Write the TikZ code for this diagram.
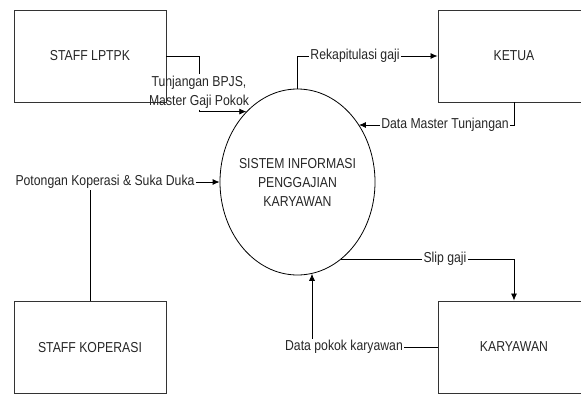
\documentclass[tikz,border=0pt]{standalone}
\usepackage{fontspec}
\setmainfont{Liberation Sans}[FakeStretch=0.85]
\usetikzlibrary{shapes.geometric, arrows.meta}

\begin{document}
\begin{tikzpicture}[x=1pt,y=-1pt,>={Latex[length=7pt,width=6pt]},black,line width=0.8pt,
                font=\fontsize{14.4}{19}\selectfont,
                entity/.style={rectangle,draw=black!80,line width=0.9pt,minimum width=152pt,
                minimum height=92pt,inner sep=0pt,text=black!85},
                proc/.style={ellipse,draw,minimum width=155pt,minimum height=186pt,
                align=center,inner sep=0pt,text=black!85},
                flow/.style={inner sep=1pt,text=black!85}]
                \useasboundingbox (0,0) rectangle (581,394);
                \node[entity] (lptpk) at (90,56) {STAFF LPTPK};
                \node[entity] (ketua) at (514,56) {KETUA};
                \node[entity] (koperasi) at (90,347.5) {STAFF KOPERASI};
                \node[entity] (karyawan) at (514,347) {KARYAWAN};
                \node[proc] (sis) at (297.5,182) {\makebox[0pt]{SISTEM INFORMASI}\\PENGGAJIAN\\KARYAWAN};
                \node[flow,align=center] (tbp) at (199,92) {Tunjangan BPJS,\\Master Gaji Pokok};
                \node[flow] (rek) at (355,56) {Rekapitulasi gaji};
                \node[flow] (dmt) at (445,125) {Data Master Tunjangan};
                \node[flow] (pkd) at (105,182) {Potongan Koperasi \& Suka Duka};
                \node[flow] (slip) at (445,259) {Slip gaji};
                \node[flow] (dpk) at (344,347) {Data pokok karyawan};
                \draw (lptpk.east) -| (tbp.north);
                \draw[->] (tbp.south) |- (sis.126);
                \draw (sis.north) |- (rek.west);
                \draw[->] (rek.east) -- (rek.east -| ketua.west);
                \draw (ketua.south) |- (dmt.east);
                \draw[->] (dmt.west) -- (dmt.west -| sis.43);
                \draw[->] (pkd.east) -- (pkd.east -| sis.west);
                \draw (koperasi.north) -- (koperasi.north |- pkd.south);
                \draw (slip.west -| sis.299.5) -- (slip.west);
                \draw[->] (slip.east) -| (karyawan.north);
                \draw (karyawan.west) -- (dpk.east);
                \draw[->] ([xshift=-32pt]dpk.north) -- ([xshift=-32pt]dpk.north |- sis.279);
            \end{tikzpicture}
\end{document}
